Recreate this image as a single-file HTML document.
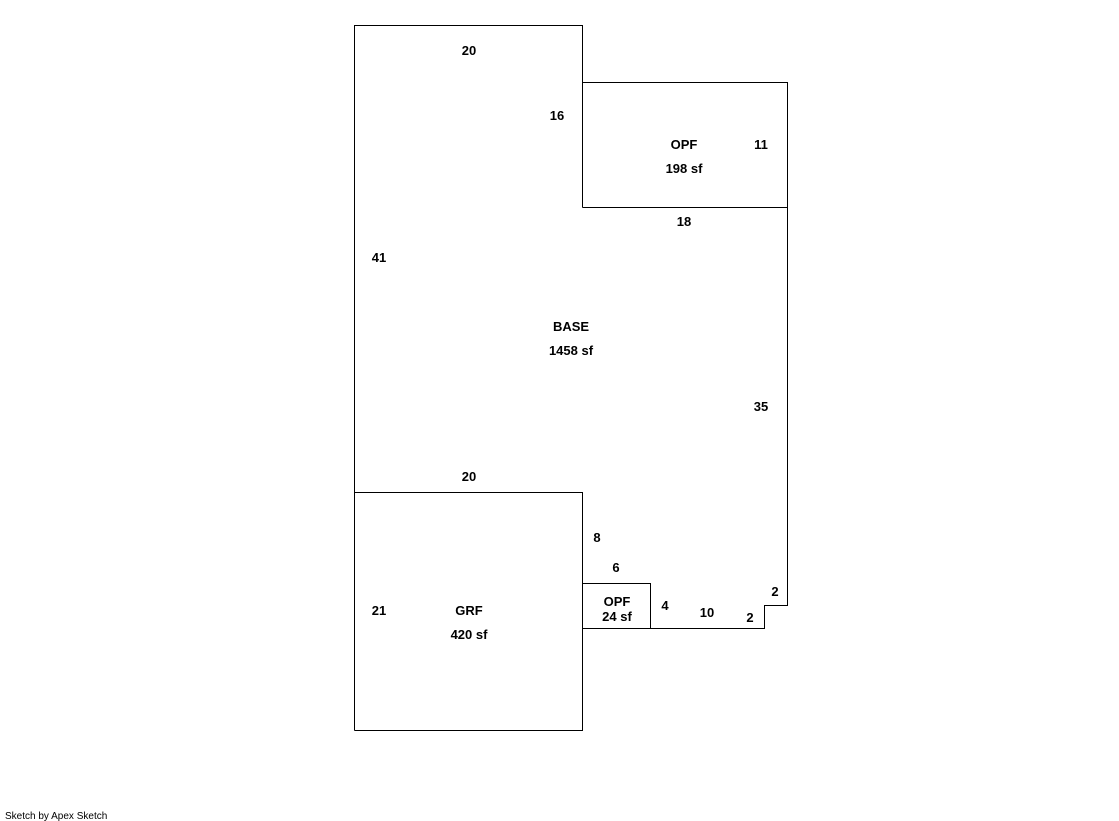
<!DOCTYPE html>
<html><head><style>
body{margin:0;background:#fff;}
svg{display:block;}
text{font-family:"Liberation Sans",sans-serif;font-size:13px;font-weight:bold;text-anchor:middle;fill:#000;}
</style></head><body>
<svg width="1119" height="821" viewBox="0 0 1119 821">
<g fill="none" stroke="#000" stroke-width="1" shape-rendering="crispEdges">
<polyline points="354.5,730.5 354.5,25.5 582.5,25.5 582.5,82.5 787.5,82.5 787.5,605.5 764.5,605.5 764.5,628.5 650.5,628.5"/>
<line x1="582.5" y1="207.5" x2="787.5" y2="207.5"/>
<line x1="582.5" y1="82.5" x2="582.5" y2="207.5"/>
<polyline points="354.5,492.5 582.5,492.5 582.5,730.5 354.5,730.5"/>
<rect x="582.5" y="583.5" width="68" height="45"/>
</g>
<text x="469" y="55">20</text>
<text x="557" y="120">16</text>
<text x="684" y="149">OPF</text>
<text x="684" y="173">198 sf</text>
<text x="761" y="149">11</text>
<text x="684" y="226">18</text>
<text x="379" y="262">41</text>
<text x="571" y="331">BASE</text>
<text x="571" y="355">1458 sf</text>
<text x="761" y="411">35</text>
<text x="469" y="481">20</text>
<text x="597" y="542">8</text>
<text x="616" y="572">6</text>
<text x="617" y="606">OPF</text>
<text x="617" y="621">24 sf</text>
<text x="665" y="610">4</text>
<text x="707" y="617">10</text>
<text x="750" y="622">2</text>
<text x="775" y="596">2</text>
<text x="379" y="615">21</text>
<text x="469" y="615">GRF</text>
<text x="469" y="639">420 sf</text>
<text x="5" y="819" style="font-size:10px;font-weight:normal;text-anchor:start">Sketch by Apex Sketch</text>
</svg>
</body></html>
